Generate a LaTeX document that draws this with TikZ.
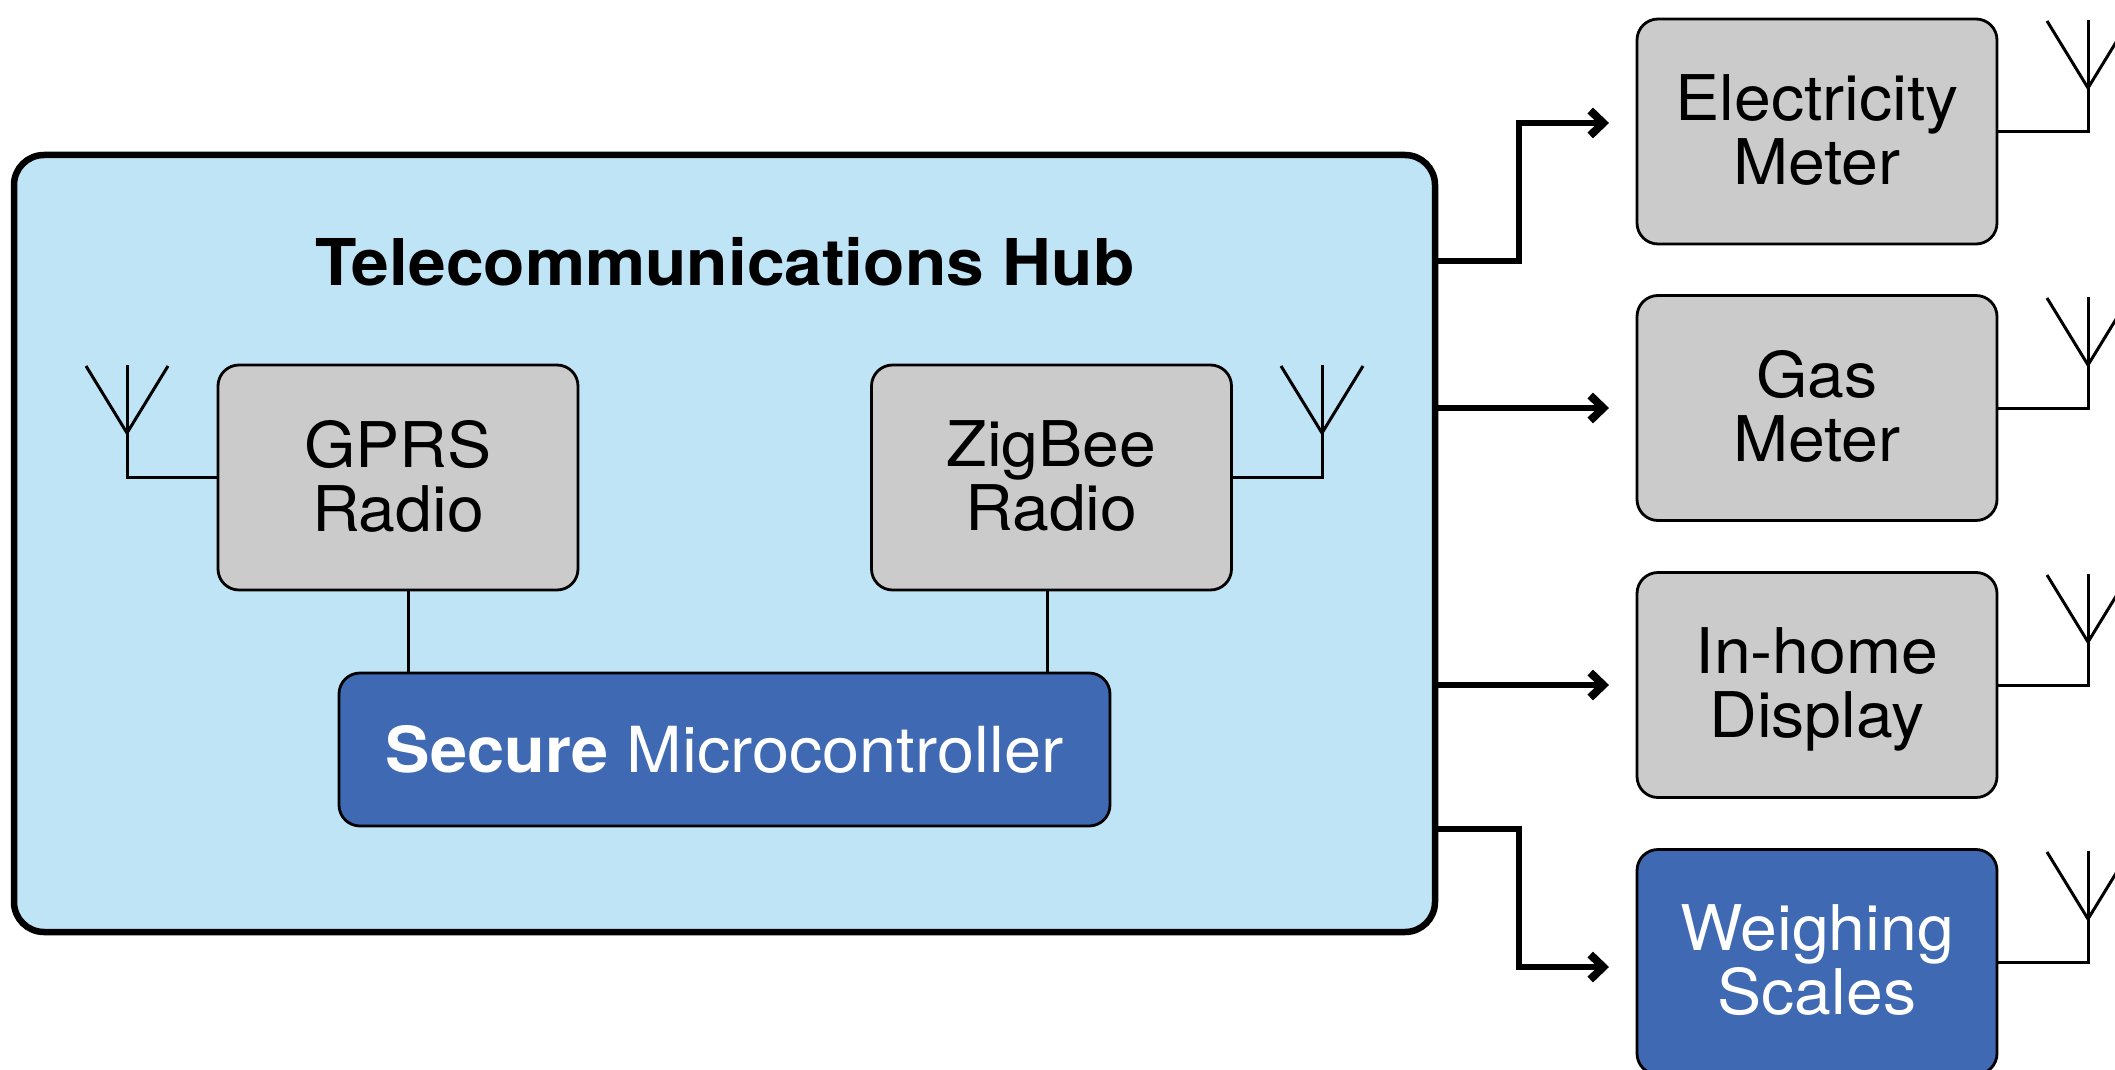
\documentclass[tikz,border=0pt]{standalone}
\usepackage{fontspec}
\setmainfont[FakeStretch=1.05]{TeX Gyre Heros}
\usetikzlibrary{arrows.meta}
\definecolor{hubblue}{HTML}{BEE4F6}
\definecolor{boxgrey}{HTML}{CBCBCB}
\definecolor{deepblue}{HTML}{3F69B2}
\tikzset{
  hubbox/.style={draw=black,fill=hubblue,line width=6.5pt,rounded corners=30pt,inner sep=0pt,minimum width=1421pt,minimum height=777pt},
  devbox/.style={draw=black,fill=boxgrey,line width=2.8pt,rounded corners=21pt,inner sep=0pt,minimum width=360pt,minimum height=225pt,align=center,font=\fontsize{63}{64}\selectfont},
  bluebox/.style={devbox,fill=deepblue,text=white},
  mcubox/.style={bluebox,minimum width=771pt,minimum height=153pt,font=\fontsize{63.5}{64}\selectfont},
  titletext/.style={inner sep=0pt,font=\fontsize{64.5}{66}\selectfont\bfseries},
  wire/.style={draw=black,line width=3pt,line cap=butt,line join=miter},
  feed/.style={draw=black,line width=6.5pt,line join=miter,-{Straight Barb[length=13pt,width=25pt,line width=8pt]}}
}
\newcommand{\antenna}[2]{%
  \draw[wire] (#1,#2-68) -- (#1,#2);
  \draw[wire] (#1-41,#2-67) -- (#1,#2) -- (#1+41,#2-67);
}
\newcommand{\lastline}[1]{\raisebox{0pt}[\height][4pt]{#1}}
\begin{document}
\begin{tikzpicture}[x=1pt,y=-1pt]
\useasboundingbox (0,0) rectangle (2115,1070);
\clip (0,0) rectangle (2115,1070);
\node[hubbox] (hub) at (724.5,543.5) {};
\node[titletext] (title) at (725,262) {Telecommunications Hub};
\node[devbox] (gprs) at (398,477.5) {GPRS\\\lastline{Radio}};
\node[devbox] (zigbee) at (1051.5,477.5) {ZigBee\\\lastline{Radio}};
\node[mcubox] (mcu) at (724.5,749.5) {\textbf{Secure} Microcontroller};
\node[devbox] (elec) at (1817,131.5) {Electricity\\\lastline{Meter}};
\node[devbox] (gas) at (1817,408) {Gas\\\lastline{Meter}};
\node[devbox] (ihd) at (1817,685) {In-home\\\lastline{Display}};
\node[bluebox] (scales) at (1817,962) {Weighing\\\lastline{Scales}};
% antennas
\coordinate (antg) at (127,433);
\coordinate (antz) at (1322,433);
\coordinate (ante) at (2088,88);
\coordinate (antgas) at (2088,365);
\coordinate (anti) at (2088,642);
\coordinate (ants) at (2088,919);
\antenna{127}{433}
\antenna{1322}{433}
\antenna{2088}{88}
\antenna{2088}{365}
\antenna{2088}{642}
\antenna{2088}{919}
\draw[wire] (gprs.west) -| (antg);
\draw[wire] (zigbee.east) -| (antz);
\draw[wire] (elec.east) -| (ante);
\draw[wire] (gas.east) -| (antgas);
\draw[wire] (ihd.east) -| (anti);
\draw[wire] (scales.east) -| (ants);
% internal links
\coordinate (lg) at (408,673);
\coordinate (lz) at (1047,673);
\draw[wire] (gprs.south -| lg) -- (mcu.north -| lg);
\draw[wire] (zigbee.south -| lz) -- (mcu.north -| lz);
% hub feeds
\coordinate (f1) at (1436,261);
\coordinate (t1) at (1609,123);
\coordinate (f2) at (1436,408);
\coordinate (t2) at (1609,408);
\coordinate (f3) at (1436,685);
\coordinate (t3) at (1609,685);
\coordinate (f4) at (1436,829);
\coordinate (t4) at (1609,967);
\coordinate (bend) at (1519,0);
\draw[feed] (f1) -- (f1 -| bend) -- (t1 -| bend) -- (t1);
\draw[feed] (f2) -- (t2);
\draw[feed] (f3) -- (t3);
\draw[feed] (f4) -- (f4 -| bend) -- (t4 -| bend) -- (t4);
\end{tikzpicture}
\end{document}
